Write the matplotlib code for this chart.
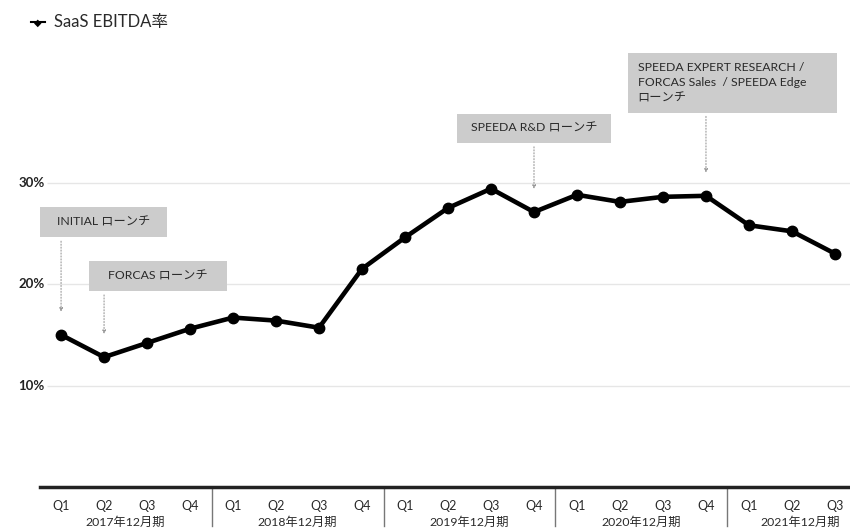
import matplotlib.pyplot as plt
from matplotlib.patches import Rectangle
from matplotlib.transforms import blended_transform_factory

plt.rcParams['font.family'] = ['Lato', 'Noto Sans CJK JP', 'DejaVu Sans']

# SaaS EBITDA margin by quarter (%)
quarters = ['Q1', 'Q2', 'Q3', 'Q4'] * 4 + ['Q1', 'Q2', 'Q3']
fiscal_years = ['2017年12月期', '2018年12月期', '2019年12月期', '2020年12月期', '2021年12月期']
ebitda_rate = [15.0, 12.8, 14.2, 15.6,
               16.7, 16.4, 15.7, 21.5,
               24.6, 27.5, 29.4, 27.1,
               28.8, 28.1, 28.6, 28.7,
               25.8, 25.2, 23.0]
yticks = [10, 20, 30]

# launch annotations: quarter index and label
launch_idx = [0, 1, 11, 15]
launch_text = ['INITIAL ローンチ', 'FORCAS ローンチ', 'SPEEDA R&D ローンチ',
               'SPEEDA EXPERT RESEARCH /\nFORCAS Sales  / SPEEDA Edge\nローンチ']
# box extents (x0, x1, y0, y1) in data units
launch_box = [(-0.49, 2.47, 24.6, 27.6),
              (0.65, 3.86, 19.3, 22.3),
              (9.21, 12.79, 33.9, 36.8),
              (13.19, 18.05, 36.9, 42.8)]

fig = plt.figure(figsize=(8.5, 5.31), dpi=100)
ax = fig.add_axes([40 / 850, 44 / 531, 810 / 850, 487 / 531])
x = list(range(len(ebitda_rate)))
ax.set_xlim(-0.49, 18.35)
ax.set_ylim(0, 48)

# light horizontal grid
ax.hlines(yticks, -0.32, 18.35, color='#e6e6e6', lw=1, zorder=0)
for t in yticks:
    ax.text(-0.38, t, f'{t}%', ha='right', va='center', fontsize=9.5,
            fontweight='bold', color='#222222')

ax.plot(x, ebitda_rate, color='black', lw=3.3, marker='o', ms=7.5, zorder=3)

# annotation boxes with dotted arrows
for i, txt, (x0, x1, y0, y1) in zip(launch_idx, launch_text, launch_box):
    ax.add_patch(Rectangle((x0, y0), x1 - x0, y1 - y0, fc='#cccccc', ec='none',
                           clip_on=False, zorder=2))
    if '\n' in txt:
        ax.text(x0 + 0.22, (y0 + y1) / 2, txt, ha='left', va='center',
                fontsize=8.8, color='#2a2a2a', linespacing=1.45, zorder=4)
    else:
        ax.text((x0 + x1) / 2, (y0 + y1) / 2, txt, ha='center', va='center',
                fontsize=8.8, color='#2a2a2a', zorder=4)
    ax.annotate('', xy=(i, ebitda_rate[i] + 2.0), xytext=(i, y0 - 0.1),
                arrowprops=dict(arrowstyle='-|>', ls=':', color='#999999',
                                lw=0.8, mutation_scale=5))

# bottom axis line and quarter labels
for s in ['top', 'right', 'left']:
    ax.spines[s].set_visible(False)
ax.spines['bottom'].set_linewidth(2.5)
ax.spines['bottom'].set_color('#222222')
ax.set_xticks(x)
ax.set_xticklabels(quarters, fontsize=9, color='#2a2a2a')
ax.tick_params(axis='x', length=0, pad=9)
ax.set_yticks([])

trans = blended_transform_factory(ax.transData, ax.transAxes)
for sep in [3.5, 7.5, 11.5, 15.5]:
    ax.plot([sep, sep], [0, -0.08], transform=trans, color='#777777',
            lw=1, clip_on=False)
year_centers = [1.5, 5.5, 9.5, 13.5, 17.2]
for xc, fy in zip(year_centers, fiscal_years):
    ax.text(xc, -0.072, fy, transform=trans, ha='center', va='center',
            fontsize=8.8, color='#2a2a2a')

# legend at top left
fig.text(0.044, 0.958, '◆', fontsize=7, va='center', ha='center', family=['DejaVu Sans'])
fig.add_artist(plt.Line2D([0.036, 0.053], [0.958, 0.958], color='black', lw=1.5))
fig.text(0.063, 0.958, 'SaaS EBITDA率', fontsize=12, va='center', color='#2a2a2a')

fig.savefig('out.png', dpi=100)
